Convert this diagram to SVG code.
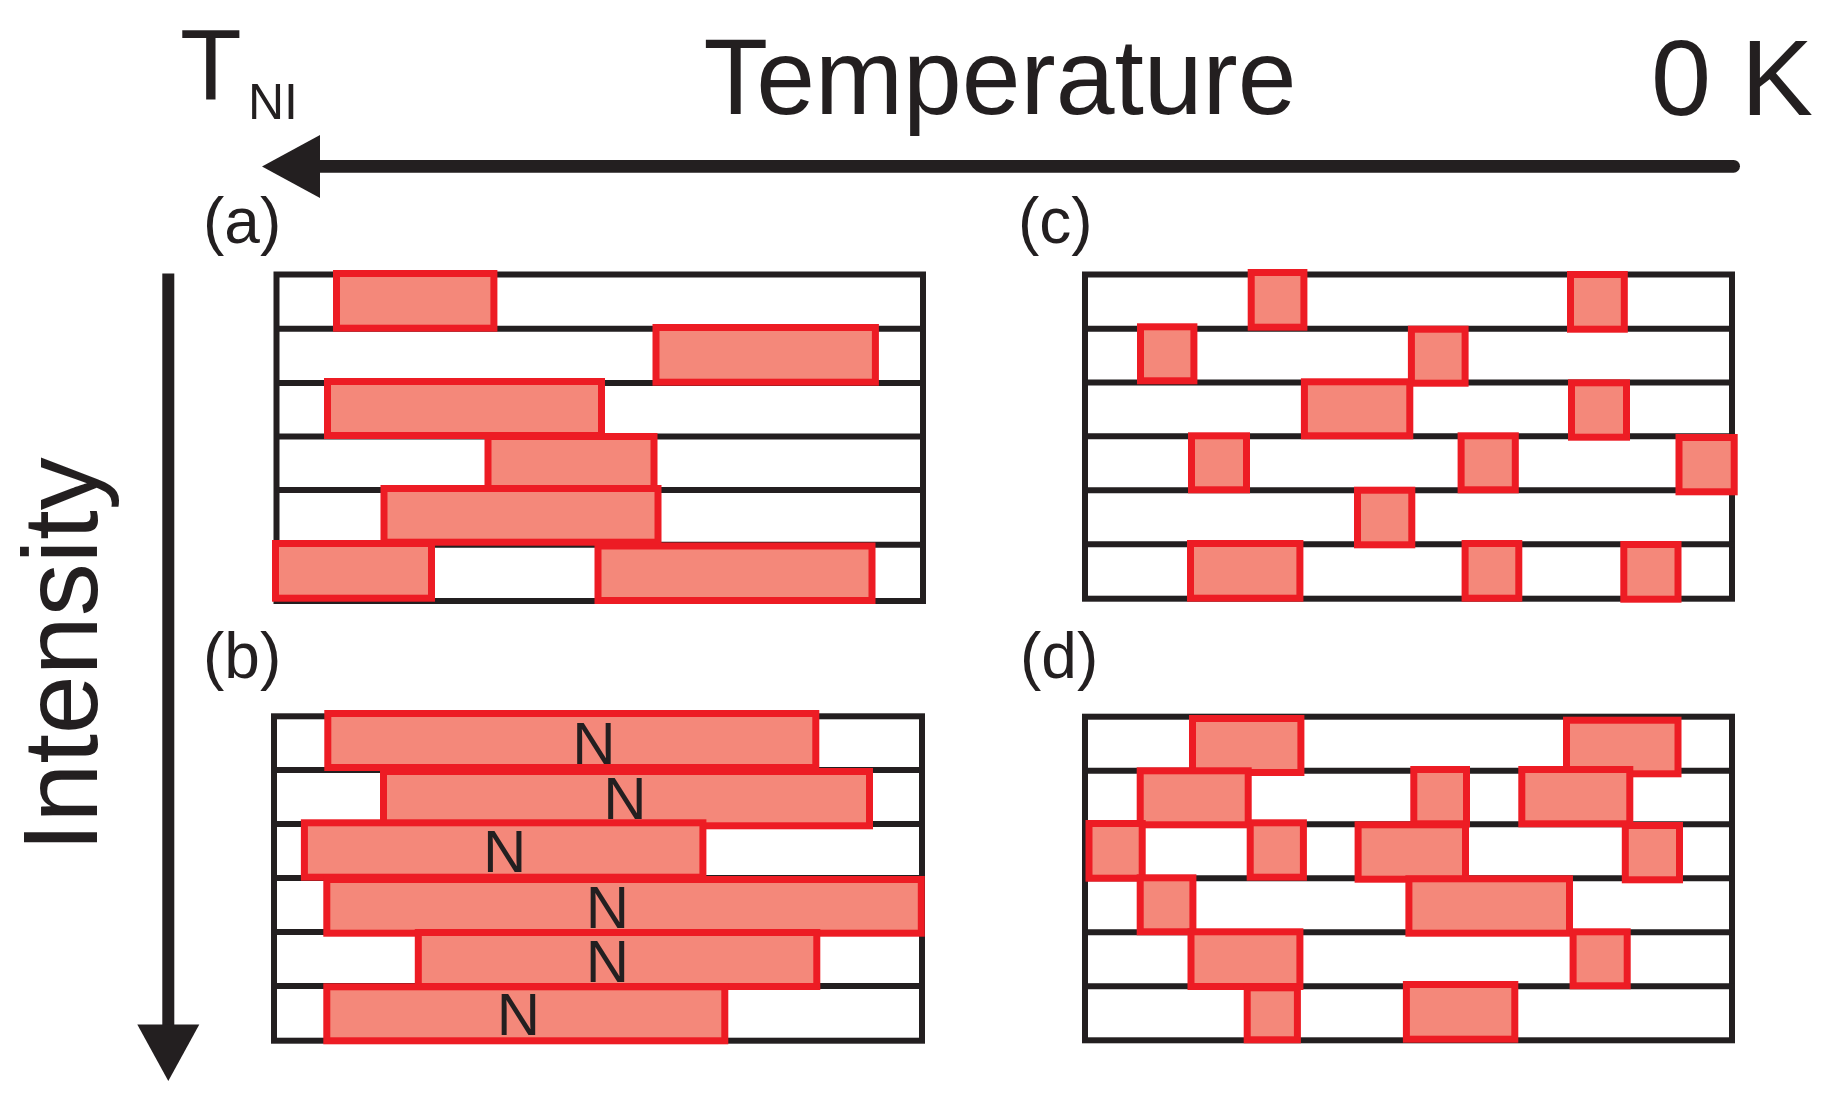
<svg xmlns="http://www.w3.org/2000/svg" width="1834" height="1101" viewBox="0 0 1834 1101">
<style>
.bg{fill:#ffffff}
.grid{fill:none;stroke:#231f20;stroke-width:6}
.box{fill:#f4887a;stroke:#ed1c24;stroke-width:7}
.txt{font-family:"Liberation Sans",Arial,Helvetica,sans-serif;fill:#231f20}
.big{font-size:108px}
.pl{font-size:64px}
.n{font-size:60px;text-anchor:middle}
.axis{stroke:#231f20;fill:none}
.head{fill:#231f20}
</style>
<rect class="bg" x="0" y="0" width="1834" height="1101"/>

<g id="labels">
  <text class="txt" x="180" y="98.7" font-size="101">T</text>
  <text class="txt" x="248" y="119" font-size="50">NI</text>
  <text class="txt big" x="703.5" y="114.3" textLength="593" lengthAdjust="spacingAndGlyphs">Temperature</text>
  <text class="txt big" x="1651" y="114.5">0 K</text>
  <text class="txt" transform="translate(96.7,852) rotate(-90)" font-size="106">Intensity</text>
</g>

<g id="connectors">
  <line class="axis" x1="1733.6" y1="166.3" x2="318" y2="166.3" stroke-width="12.7" stroke-linecap="round"/>
  <polygon class="head" points="262,166.5 320,135 320,198"/>
  <line class="axis" x1="168.3" y1="273.4" x2="168.3" y2="1027" stroke-width="12"/>
  <polygon class="head" points="137.3,1024.5 199.3,1024.5 168.3,1081"/>
</g>

<g id="panel-a">
  <text class="txt pl" x="203" y="243">(a)</text>
  <rect class="grid" x="276.5" y="274.5" width="646.5" height="326.5"/>
  <path class="grid" d="M276.5 328.7H923M276.5 383H923M276.5 436.5H923M276.5 490H923M276.5 544.7H923"/>
  <rect class="box" x="336.5" y="273.5" width="157.4" height="54.7"/>
  <rect class="box" x="656" y="327.5" width="219.4" height="54.7"/>
  <rect class="box" x="327.5" y="381.5" width="274" height="54"/>
  <rect class="box" x="488" y="436.5" width="166" height="54"/>
  <rect class="box" x="384" y="488.5" width="274" height="53.7"/>
  <rect class="box" x="275.5" y="543.5" width="156" height="54.7"/>
  <rect class="box" x="598" y="546" width="274" height="54.5"/>
</g>

<g id="panel-b">
  <text class="txt pl" x="203" y="678">(b)</text>
  <rect class="grid" x="274" y="716.3" width="648" height="324.4"/>
  <path class="grid" d="M274 770H922M274 824H922M274 878H922M274 932H922M274 986H922"/>
  <rect class="box" x="327.8" y="713.5" width="488" height="54"/>
  <text class="txt n" x="594" y="764">N</text>
  <rect class="box" x="383.5" y="771.5" width="486" height="54.3"/>
  <text class="txt n" x="625" y="819">N</text>
  <rect class="box" x="304.4" y="822.8" width="398.5" height="54.4"/>
  <text class="txt n" x="504.6" y="871.7">N</text>
  <rect class="box" x="326.8" y="879.5" width="594.5" height="53.7"/>
  <text class="txt n" x="607.4" y="928.3">N</text>
  <rect class="box" x="418.3" y="932.5" width="398.5" height="54"/>
  <text class="txt n" x="607.5" y="981.7">N</text>
  <rect class="box" x="326.8" y="986.8" width="398" height="54"/>
  <text class="txt n" x="518.5" y="1035">N</text>
</g>

<g id="panel-c">
  <text class="txt pl" x="1018" y="243">(c)</text>
  <rect class="grid" x="1085" y="274.5" width="647" height="324.2"/>
  <path class="grid" d="M1085 328.7H1732M1085 382.5H1732M1085 436.3H1732M1085 490.3H1732M1085 544.3H1735"/>
  <rect class="box" x="1251.2" y="272.5" width="52.7" height="54.7"/>
  <rect class="box" x="1570.5" y="274.5" width="53.8" height="54.7"/>
  <rect class="box" x="1140.5" y="326.8" width="53.4" height="54"/>
  <rect class="box" x="1411.4" y="329.2" width="53.7" height="54"/>
  <rect class="box" x="1304.4" y="381.8" width="105.4" height="54"/>
  <rect class="box" x="1571.5" y="382.8" width="55" height="54.4"/>
  <rect class="box" x="1191.5" y="435.8" width="55" height="54"/>
  <rect class="box" x="1461.1" y="435.8" width="54.2" height="54"/>
  <rect class="box" x="1679" y="437.5" width="55.2" height="54.3"/>
  <rect class="box" x="1357.5" y="490.2" width="54.3" height="54.6"/>
  <rect class="box" x="1190.5" y="543.5" width="109.4" height="54.7"/>
  <rect class="box" x="1465.1" y="543.5" width="53.7" height="54.7"/>
  <rect class="box" x="1623.8" y="544.5" width="54.2" height="54.7"/>
</g>

<g id="panel-d">
  <text class="txt pl" x="1020" y="678">(d)</text>
  <rect class="grid" x="1085" y="716.7" width="647" height="323.6"/>
  <path class="grid" d="M1085 770.7H1732M1085 824.3H1732M1085 878.3H1732M1085 932.3H1732M1085 986.3H1735"/>
  <rect class="box" x="1192.5" y="718.5" width="108.4" height="54"/>
  <rect class="box" x="1566.5" y="720.2" width="111.5" height="53.6"/>
  <rect class="box" x="1140.2" y="770.8" width="108" height="54"/>
  <rect class="box" x="1413.8" y="769.5" width="52.7" height="54.3"/>
  <rect class="box" x="1521.8" y="769.5" width="108" height="54.3"/>
  <rect class="box" x="1089" y="823.5" width="53.2" height="54.7"/>
  <rect class="box" x="1250.2" y="822.8" width="53.2" height="54.4"/>
  <rect class="box" x="1358.1" y="824.8" width="107.4" height="54.4"/>
  <rect class="box" x="1625.3" y="825.5" width="54.2" height="54.3"/>
  <rect class="box" x="1140.2" y="877.8" width="52.7" height="54"/>
  <rect class="box" x="1408.9" y="878.8" width="160.6" height="54.4"/>
  <rect class="box" x="1191" y="931.8" width="108.9" height="54.7"/>
  <rect class="box" x="1573.1" y="931.8" width="54.1" height="54"/>
  <rect class="box" x="1247.2" y="987.8" width="50.2" height="52"/>
  <rect class="box" x="1406.4" y="984.5" width="108.4" height="54.7"/>
</g>
</svg>
